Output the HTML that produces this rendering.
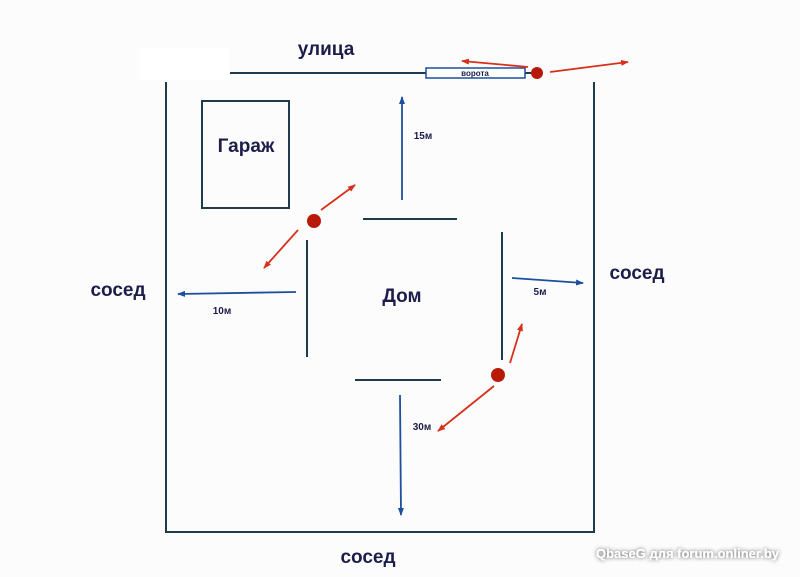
<!DOCTYPE html>
<html><head><meta charset="utf-8"><style>
html,body{margin:0;padding:0;background:#fcfcfd;}
svg{display:block;}
text{font-family:"Liberation Sans",sans-serif;font-weight:bold;fill:#1d1d4a;}
</style></head><body>
<svg width="800" height="577" viewBox="0 0 800 577" xmlns="http://www.w3.org/2000/svg">
<defs>
<marker id="r" markerWidth="8" markerHeight="8" refX="7" refY="4" orient="auto" markerUnits="userSpaceOnUse"><path d="M0,1 L8,4 L0,7 z" fill="#d8301a"/></marker>
<marker id="b" markerWidth="8" markerHeight="8" refX="7" refY="4" orient="auto" markerUnits="userSpaceOnUse"><path d="M0,1 L8,4 L0,7 z" fill="#1d4f9e"/></marker>
<filter id="sh" x="-10%" y="-50%" width="120%" height="200%"><feGaussianBlur in="SourceAlpha" stdDeviation="2"/><feComponentTransfer><feFuncA type="linear" slope="0.7"/></feComponentTransfer><feMerge><feMergeNode/><feMergeNode in="SourceGraphic"/></feMerge></filter>
</defs>
<rect x="140" y="48" width="90" height="32" fill="#fff"/>
<g stroke="#1f3c4c" stroke-width="2" fill="none">
<line x1="230" y1="73" x2="426" y2="73"/>
<line x1="525" y1="73" x2="534" y2="73"/>
<polyline points="166,82 166,532 594,532 594,82"/>
<rect x="202" y="101" width="87" height="107"/>
<line x1="363" y1="219" x2="457" y2="219"/>
<line x1="307" y1="240" x2="307" y2="357"/>
<line x1="502" y1="232" x2="502" y2="360"/>
<line x1="355" y1="380" x2="441" y2="380"/>
</g>
<rect x="426" y="68" width="99" height="10" fill="#fff" stroke="#1d4f9e" stroke-width="1.5"/>
<text x="475" y="76" font-size="8" text-anchor="middle">ворота</text>
<g stroke="#d8301a" stroke-width="1.8">
<line x1="321" y1="210" x2="355" y2="185" marker-end="url(#r)"/>
<line x1="298" y1="230" x2="264" y2="268" marker-end="url(#r)"/>
<line x1="510" y1="363" x2="522" y2="324" marker-end="url(#r)"/>
<line x1="494" y1="386" x2="438" y2="431" marker-end="url(#r)"/>
<line x1="528" y1="67" x2="462" y2="61" marker-end="url(#r)"/>
<line x1="550" y1="72" x2="628" y2="62" marker-end="url(#r)"/>
</g>
<g stroke="#1d4f9e" stroke-width="1.8">
<line x1="402" y1="200" x2="402" y2="97" marker-end="url(#b)"/>
<line x1="296" y1="292" x2="178" y2="294" marker-end="url(#b)"/>
<line x1="512" y1="278" x2="583" y2="283" marker-end="url(#b)"/>
<line x1="400" y1="395" x2="401" y2="515" marker-end="url(#b)"/>
</g>
<g fill="#b81a0a">
<circle cx="314" cy="221" r="7"/>
<circle cx="498" cy="375" r="7"/>
<circle cx="537" cy="73" r="6"/>
</g>
<text x="326" y="55" font-size="19" text-anchor="middle">улица</text>
<text x="246" y="152" font-size="19" text-anchor="middle">Гараж</text>
<text x="118" y="296" font-size="19" text-anchor="middle">сосед</text>
<text x="637" y="279" font-size="19" text-anchor="middle">сосед</text>
<text x="368" y="563" font-size="19" text-anchor="middle">сосед</text>
<text x="402" y="302" font-size="19" text-anchor="middle">Дом</text>
<text x="423" y="139" font-size="10" text-anchor="middle">15м</text>
<text x="222" y="314" font-size="10" text-anchor="middle">10м</text>
<text x="540" y="295" font-size="10" text-anchor="middle">5м</text>
<text x="422" y="430" font-size="10" text-anchor="middle">30м</text>
<text x="779" y="558" font-size="13" text-anchor="end" style="fill:#fff" filter="url(#sh)">QbaseG для forum.onliner.by</text>
</svg>
</body></html>
